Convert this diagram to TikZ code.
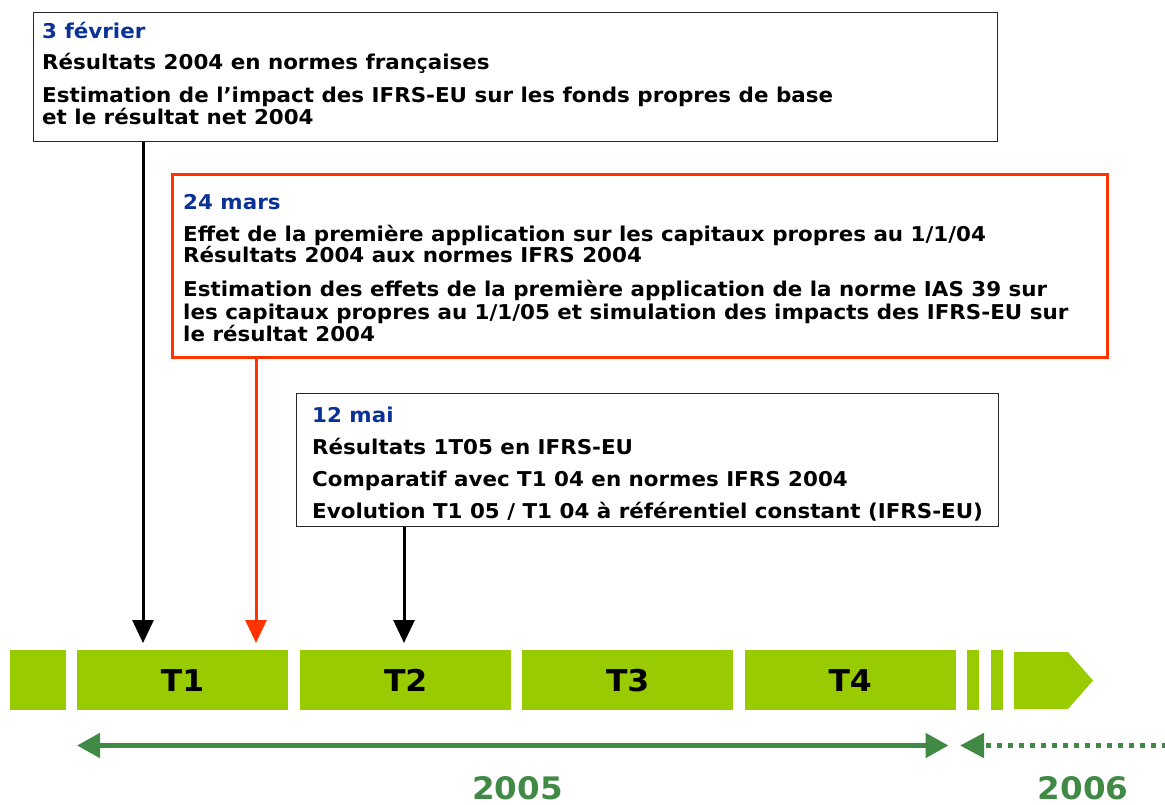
\documentclass[tikz,border=0pt]{standalone}
\usepackage{fontspec}
\setmainfont{DejaVu Sans}[FakeStretch=1.05]
\usetikzlibrary{arrows.meta}
\definecolor{lime}{RGB}{153,204,0}
\definecolor{darkgreen}{RGB}{64,138,70}
\definecolor{dateblue}{RGB}{10,50,150}
\definecolor{redline}{RGB}{255,51,0}
\definecolor{boxgray}{RGB}{40,40,40}
\begin{document}
\begin{tikzpicture}[x=1pt,y=-1pt,
  txt/.style={anchor=base west, inner sep=0pt, font=\bfseries\fontsize{20.4}{24}\selectfont},
  datetxt/.style={txt, text=dateblue},
  infobox/.style={draw=boxgray, line width=1.2pt, inner sep=0pt, anchor=north west},
  redbox/.style={draw=redline, line width=3pt, inner sep=0pt, anchor=north west},
  bar/.style={fill=lime, draw=none, inner sep=0pt, anchor=north west, minimum height=60pt, text height=22pt, text depth=0pt, font=\bfseries\fontsize{30}{34}\selectfont},
  pointer/.style={line width=3pt, -{Triangle[length=23pt,width=21pt]}},
  yeararrow/.style={draw=darkgreen, line width=5pt},
  yeartxt/.style={text=darkgreen, font=\bfseries\fontsize{31}{36}\selectfont, anchor=base, inner sep=0pt, text depth=0pt}
]
\useasboundingbox (0,0) rectangle (1165,804);

% boxes
\node[infobox, minimum width=964pt, minimum height=129pt] (b1) at (33,12) {};
\node[redbox, minimum width=935pt, minimum height=183pt] (b2) at (170.5,172.5) {};
\node[infobox, minimum width=702pt, minimum height=133pt] (b3) at (296,393) {};

% box 1 text
\node[datetxt] (b1d) at (42,38) {3 février};
\node[txt] (b1l1) at (42,69.5) {Résultats 2004 en normes françaises};
\node[txt] (b1l2) at (42,102) {Estimation de l’impact des IFRS-EU sur les fonds propres de base};
\node[txt] (b1l3) at (42,124) {et le résultat net 2004};

% box 2 text
\node[datetxt] (b2d) at (183,209) {24 mars};
\node[txt] (b2l1) at (183,241) {Effet de la première application sur les capitaux propres au 1/1/04};
\node[txt] (b2l2) at (183,262) {Résultats 2004 aux normes IFRS 2004};
\node[txt] (b2l3) at (183,296) {Estimation des effets de la première application de la norme IAS 39 sur};
\node[txt] (b2l4) at (183,319) {les capitaux propres au 1/1/05 et simulation des impacts des IFRS-EU sur};
\node[txt] (b2l5) at (183,341) {le résultat 2004};

% box 3 text
\node[datetxt] (b3d) at (312,422) {12 mai};
\node[txt] (b3l1) at (312,454) {Résultats 1T05 en IFRS-EU};
\node[txt] (b3l2) at (312,486.5) {Comparatif avec T1 04 en normes IFRS 2004};
\node[txt] (b3l3) at (312,518) {Evolution T1 05 / T1 04 à référentiel constant (IFRS-EU)};

% quarter bars
\node[bar, minimum width=56pt] (q0) at (10,650) {};
\node[bar, minimum width=211pt] (q1) at (77,650) {T1};
\node[bar, minimum width=211pt] (q2) at (300,650) {T2};
\node[bar, minimum width=211pt] (q3) at (522,650) {T3};
\node[bar, minimum width=211pt] (q4) at (744.5,650) {T4};
\node[bar, minimum width=12pt] (s1) at (967,650) {};
\node[bar, minimum width=12pt] (s2) at (991,650) {};
\fill[lime] (1014,652) -- (1068,652) -- (1093,680.5) -- (1068,709) -- (1014,709) -- cycle;

% pointers
\coordinate (p1) at (143,643);
\coordinate (p2) at (256,643);
\coordinate (p3) at (404,643);
\draw[pointer, draw=black, fill=black] (b1.south -| p1) -- (p1);
\draw[pointer, draw=redline, fill=redline] (b2.south -| p2) -- (p2);
\draw[pointer, draw=black, fill=black] (b3.south -| p3) -- (p3);

% year arrows
\coordinate (y5l) at (77,745.5);
\coordinate (y5r) at (948.5,745.5);
\coordinate (y6l) at (960,745.5);
\coordinate (y6r) at (1170,745.5);
\draw[yeararrow, {Triangle[length=23pt,width=24pt,fill=darkgreen]}-{Triangle[length=23pt,width=24pt,fill=darkgreen]}] (y5l) -- (y5r);
\draw[yeararrow, {Triangle[length=24pt,width=24pt,fill=darkgreen]}-, dash pattern=on 5pt off 6pt, dash phase=-3pt] (y6l) -- (y6r);

% year labels
\node[yeartxt] (t2005) at (517.5,799) {2005};
\node[yeartxt] (t2006) at (1083,799) {2006};
\end{tikzpicture}
\end{document}
